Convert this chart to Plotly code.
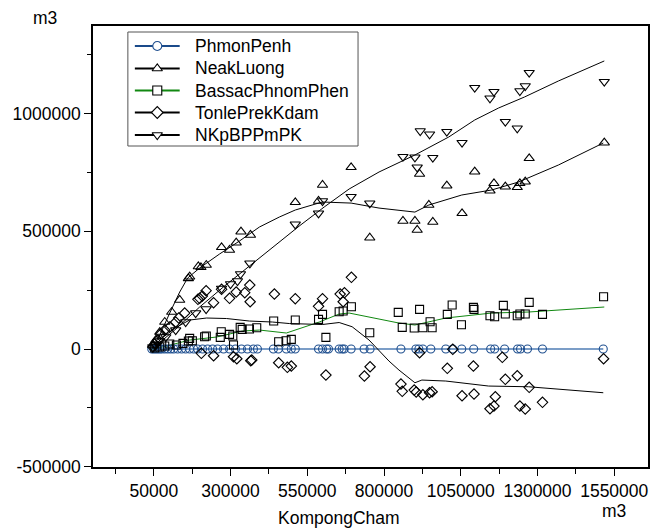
import plotly.graph_objects as go

# ---------------- data (m3) ----------------
phmon_x = [43500, 50000, 56500, 63000, 69500, 76000, 85700, 95500, 105200, 114900, 127900, 140900,
           153900, 166900, 179900, 192900, 209100, 225300, 241600, 257800, 277300, 296800, 316200,
           335700, 355200, 374700, 387700, 439600, 455800, 481800, 498000, 511000, 586700, 599700,
           612700, 619200, 653900, 663600, 670100, 692900, 735100, 754600, 855200, 903900, 913600,
           926600, 952600, 1001300, 1024000, 1053300, 1092200, 1147400, 1160400, 1192900, 1235100,
           1244800, 1267500, 1316300, 1514300]
phmon_y = [0] * len(phmon_x)

neak_x = [1517600, 1273000, 1095500, 1004600, 1158200, 1145200, 1195200, 1234100, 1260100, 1242600,
          915900, 946100, 1054200, 861700, 900700, 959000, 908100,
          692900, 599700, 511000, 586700, 753600,
          334100, 365000, 270800, 296800, 318500, 221100, 203600, 166900, 162700, 195100,
          134400, 108400, 85700, 69500, 56500, 46800]
neak_y = [876400, 810100, 753200, 693700, 703900, 672500, 689500, 686900, 710700, 703900,
          743400, 611700, 576500, 543800, 543800, 539500, 505500,
          771900, 696700, 623200, 628700, 472800,
          498300, 484300, 432000, 420600, 451600, 356800, 347100, 307100, 300300, 350500,
          208200, 157200, 114700, 72200, 38200, 17000]

bassac_x = [1515300, 1273000, 1188700, 1091200, 1093200, 1022000, 915900, 846400, 1006200, 950100,
            1052300, 859400, 898400, 926600, 956800, 1145200, 1160400, 1195200, 1234100, 1242600,
            1260100, 1316300,
            440600, 511000, 586700, 599700, 653900, 666900, 693800, 753600, 610700, 456800, 480800, 498000,
            361700, 385400, 331500, 338000, 307500, 309700, 296800, 269800, 266600, 215600, 221100,
            175600, 162700, 123700, 145100, 166900, 69500, 85700, 102000, 53250]
bassac_y = [222200, 198400, 185600, 177100, 168600, 186900, 168600, 155900, 147400, 116000,
            103200, 92200, 89200, 90500, 90500, 141500, 137200, 148700, 141500, 148700,
            148700, 147400,
            118900, 123200, 126200, 147400, 158500, 161400, 179700, 69200, 49700, 31000, 35300, 41200,
            85000, 90500, 92200, 83700, 55200, 17000, 62400, 73500, 49700, 52300, 55200,
            35300, 34000, 17000, 24200, 45500, 8500, 12700, 21200, 4200]

tonle_x = [1515300, 1185400, 915900, 1024000, 1006200, 1091200, 1195200, 1234100, 1273000, 855200,
           859400, 898400, 904900, 926600, 948400, 956800, 1054200, 1093200, 1162600, 1158200,
           1145200, 1242600, 1260100, 1316300,
           442900, 511000, 599700, 586700, 657100, 671100, 666900, 693800, 456800, 485100, 498000,
           610700, 736100, 754600,
           204900, 244800, 309700, 320500, 365900, 369200,
           363900, 362700, 346400, 318500, 296800, 270800, 244800, 220500, 199400, 193800, 208100,
           150650, 131200, 121400, 102000, 85700, 72700, 63000, 53250, 46800]
tonle_y = [-41200, -35300, -15700, -1300, -82000, -72200, -128700, -113400, -162700, -148700,
           -179700, -174200, -182700, -194100, -185600, -181400, -198400, -191200, -202600, -242100,
           -253600, -242100, -254900, -226400,
           233600, 213700, 213700, 181400, 233600, 239200, 200900, 304600, -58200, -77700, -72200,
           -110400, -114700, -75200,
           -18300, -28500, -32700, -41200, -49700, -46700,
           200900, 271900, 239200, 242100, 215400, 253600, 196700, 247700, 215400, 211100, 225100,
           152900, 131700, 114700, 93500, 80700, 63700, 38200, 21200, 8500]

nk_x = [1095500, 1158200, 1145200, 1273000, 1260100, 1242600, 1517600, 918000, 948400, 1004600,
        1054200, 1195200, 1234100, 861700, 900700, 959000, 908100,
        599700, 692900, 753600, 586700, 511000,
        363000, 332500, 322700, 300000, 270800, 220500, 186400, 153900, 121400, 89000, 69500,
        56500, 46800]
nk_y = [1110000, 1093000, 1065000, 1173700, 1117200, 1096000, 1135500, 926100, 912100, 923100,
        876400, 965600, 937600, 816900, 814400, 812700, 771900,
        628700, 647000, 618900, 576500, 529700,
        364100, 318600, 288900, 276100, 257000, 169900, 152900, 114700, 80700, 51000, 34000,
        17000, 8500]

# smoothed curves
phmon_fit_x = [43500, 400000, 800000, 1200000, 1514300]
phmon_fit_y = [0, 0, 0, 0, 0]
neak_fit_x = [43500, 69500, 102000, 134400, 160400, 199400, 264300, 329200, 394200, 459100, 511000,
              598700, 692900, 783800, 900700, 946100, 1053300, 1150700, 1238300, 1368200, 1514300]
neak_fit_y = [0, 59500, 152900, 242100, 301600, 344100, 403600, 458800, 518300, 560700, 590500,
              624500, 619900, 598700, 581700, 611700, 654200, 675500, 709400, 781600, 875100]
bassac_fit_x = [43500, 79200, 166900, 254500, 338900, 394200, 481800, 589000, 653900, 686400,
                783800, 848700, 900700, 1001300, 1150700, 1270800, 1517600]
bassac_fit_y = [0, 8500, 38200, 51000, 76500, 80700, 68000, 114700, 148700, 152900,
                127400, 110400, 102000, 131700, 152900, 157200, 178400]
tonle_fit_x = [43500, 76000, 124700, 166900, 222100, 287000, 361700, 436400, 491600, 598700,
               653900, 696100, 751300, 816200, 848700, 900700, 923400, 1001300, 1140900, 1270800, 1514300]
tonle_fit_y = [0, 46700, 93500, 123200, 131700, 129600, 118900, 114700, 108300, 104100,
               112600, 94700, 38200, -51000, -89200, -143200, -131700, -135900, -157200, -160200, -185600]
nk_fit_x = [43500, 118200, 199400, 280500, 361700, 442900, 524000, 605200, 686400, 783800,
            900700, 1011000, 1095500, 1173400, 1257800, 1368200, 1517600]
nk_fit_y = [0, 80700, 178400, 267600, 352600, 437500, 522500, 603200, 679700, 751900,
            824100, 900600, 972800, 1023800, 1070500, 1138500, 1223500]

x_tickvals = [50000, 300000, 550000, 800000, 1050000, 1300000, 1550000]
x_ticktext = ["50000", "300000", "550000", "800000", "1050000", "1300000", "1550000"]
x_minor = [-75000, 175000, 425000, 675000, 925000, 1175000, 1425000]
y_tickvals = [-500000, 0, 500000, 1000000]
y_ticktext = ["-500000", "0", "500000", "1000000"]
y_minor = [-250000, 250000, 750000, 1250000]

series_names = ["PhmonPenh", "NeakLuong", "BassacPhnomPhen", "TonlePrekKdam", "NKpBPPmPK"]

# ---------------- figure ----------------
FONT = "Liberation Sans, Arial, sans-serif"
FS = 17.5
W, H = 660, 528
L, R, T, B = 93, 10, 26, 61
pw, ph = W - L - R, H - T - B


def px(x):
    return (x - L) / pw


def py(y):
    return (H - B - y) / ph


fig = go.Figure()

series = [
    # name, x, y, fit x, fit y, symbol, size, marker col, fit line col, legend line col, fit width
    (series_names[0], phmon_x, phmon_y, phmon_fit_x, phmon_fit_y, "circle-open", 8, "#1f4f8f", "#4f7db5", "#1a4a8a", 1.6),
    (series_names[1], neak_x, neak_y, neak_fit_x, neak_fit_y, "triangle-up-open", 9, "#000000", "#000000", "#000000", 1.0),
    (series_names[2], bassac_x, bassac_y, bassac_fit_x, bassac_fit_y, "square-open", 8, "#000000", "#118811", "#118811", 1.0),
    (series_names[3], tonle_x, tonle_y, tonle_fit_x, tonle_fit_y, "diamond-open", 8, "#000000", "#000000", "#000000", 1.0),
    (series_names[4], nk_x, nk_y, nk_fit_x, nk_fit_y, "triangle-down-open", 9, "#000000", "#000000", "#000000", 1.0),
]

for s in series:
    name, sx, sy, fx, fy, sym, msz, mcol, lcol, legcol, lw = s
    fig.add_trace(go.Scatter(x=fx, y=fy, mode="lines", line=dict(color=lcol, width=lw),
                             showlegend=False, hoverinfo="skip"))
for s in series:
    name, sx, sy, fx, fy, sym, msz, mcol, lcol, legcol, lw = s
    fig.add_trace(go.Scatter(x=sx, y=sy, mode="markers", name=name, showlegend=False,
                             marker=dict(symbol=sym, size=msz, color=mcol, line=dict(width=1.1, color=mcol))))

# ---- hand-made legend (overlay axes in plot-area fraction coordinates) ----
legend_rows_px = [46, 68.5, 90.5, 112.5, 135]
shapes = [dict(type="rect", xref="paper", yref="paper", x0=px(128), x1=px(359), y0=py(146), y1=py(32),
               line=dict(color="#555555", width=1), fillcolor="white", layer="below")]
annotations = []
for s, rpx in zip(series, legend_rows_px):
    name, sx, sy, fx, fy, sym, msz, mcol, lcol, legcol, lw = s
    fig.add_trace(go.Scatter(x=[px(135), px(180)], y=[py(rpx), py(rpx)], mode="lines",
                             xaxis="x2", yaxis="y2", showlegend=False, hoverinfo="skip",
                             line=dict(color=legcol, width=2)))
    fig.add_trace(go.Scatter(x=[px(157.5)], y=[py(rpx)], mode="markers",
                             xaxis="x2", yaxis="y2", showlegend=False, hoverinfo="skip",
                             marker=dict(symbol=sym.replace("-open", ""), size=9, color="white",
                                         line=dict(width=1.1, color=mcol))))
    annotations.append(dict(text=name, xref="paper", yref="paper", x=px(193), y=py(rpx),
                            xanchor="left", yanchor="middle", showarrow=False,
                            font=dict(size=FS, color="black")))

annotations += [
    dict(text="m3", xref="paper", yref="paper", x=px(45), y=py(18), showarrow=False,
         xanchor="center", yanchor="middle", font=dict(size=FS)),
    dict(text="KompongCham", xref="paper", yref="paper", x=px(339.5), y=py(518), showarrow=False,
         xanchor="center", yanchor="middle", font=dict(size=FS)),
    dict(text="m3", xref="paper", yref="paper", x=px(616), y=py(511), showarrow=False,
         xanchor="center", yanchor="middle", font=dict(size=FS)),
]

fig.update_layout(
    width=W, height=H,
    margin=dict(l=L, r=R, t=T, b=B),
    paper_bgcolor="white", plot_bgcolor="white",
    font=dict(family=FONT, size=FS, color="black"),
    showlegend=False,
    xaxis=dict(range=[-148000, 1660000], tickmode="array", tickvals=x_tickvals, ticktext=x_ticktext,
               ticks="outside", ticklen=7, tickwidth=1, tickcolor="black",
               showline=True, linecolor="black", linewidth=1.5, mirror=True,
               showgrid=False, zeroline=False,
               minor=dict(tickmode="array", tickvals=x_minor, ticks="outside", ticklen=5, tickwidth=1, tickcolor="black"),
               tickfont=dict(size=FS)),
    yaxis=dict(range=[-501000, 1372000], tickmode="array", tickvals=y_tickvals, ticktext=y_ticktext,
               ticks="outside", ticklen=7, tickwidth=1, tickcolor="black",
               showline=True, linecolor="black", linewidth=1.5, mirror=True,
               showgrid=False, zeroline=False,
               minor=dict(tickmode="array", tickvals=y_minor, ticks="outside", ticklen=4, tickwidth=1, tickcolor="black"),
               tickfont=dict(size=FS)),
    xaxis2=dict(overlaying="x", anchor="y2", range=[0, 1], visible=False, fixedrange=True),
    yaxis2=dict(overlaying="y", anchor="x2", range=[0, 1], visible=False, fixedrange=True),
    shapes=shapes,
    annotations=annotations,
)

fig.write_html("out.html")
